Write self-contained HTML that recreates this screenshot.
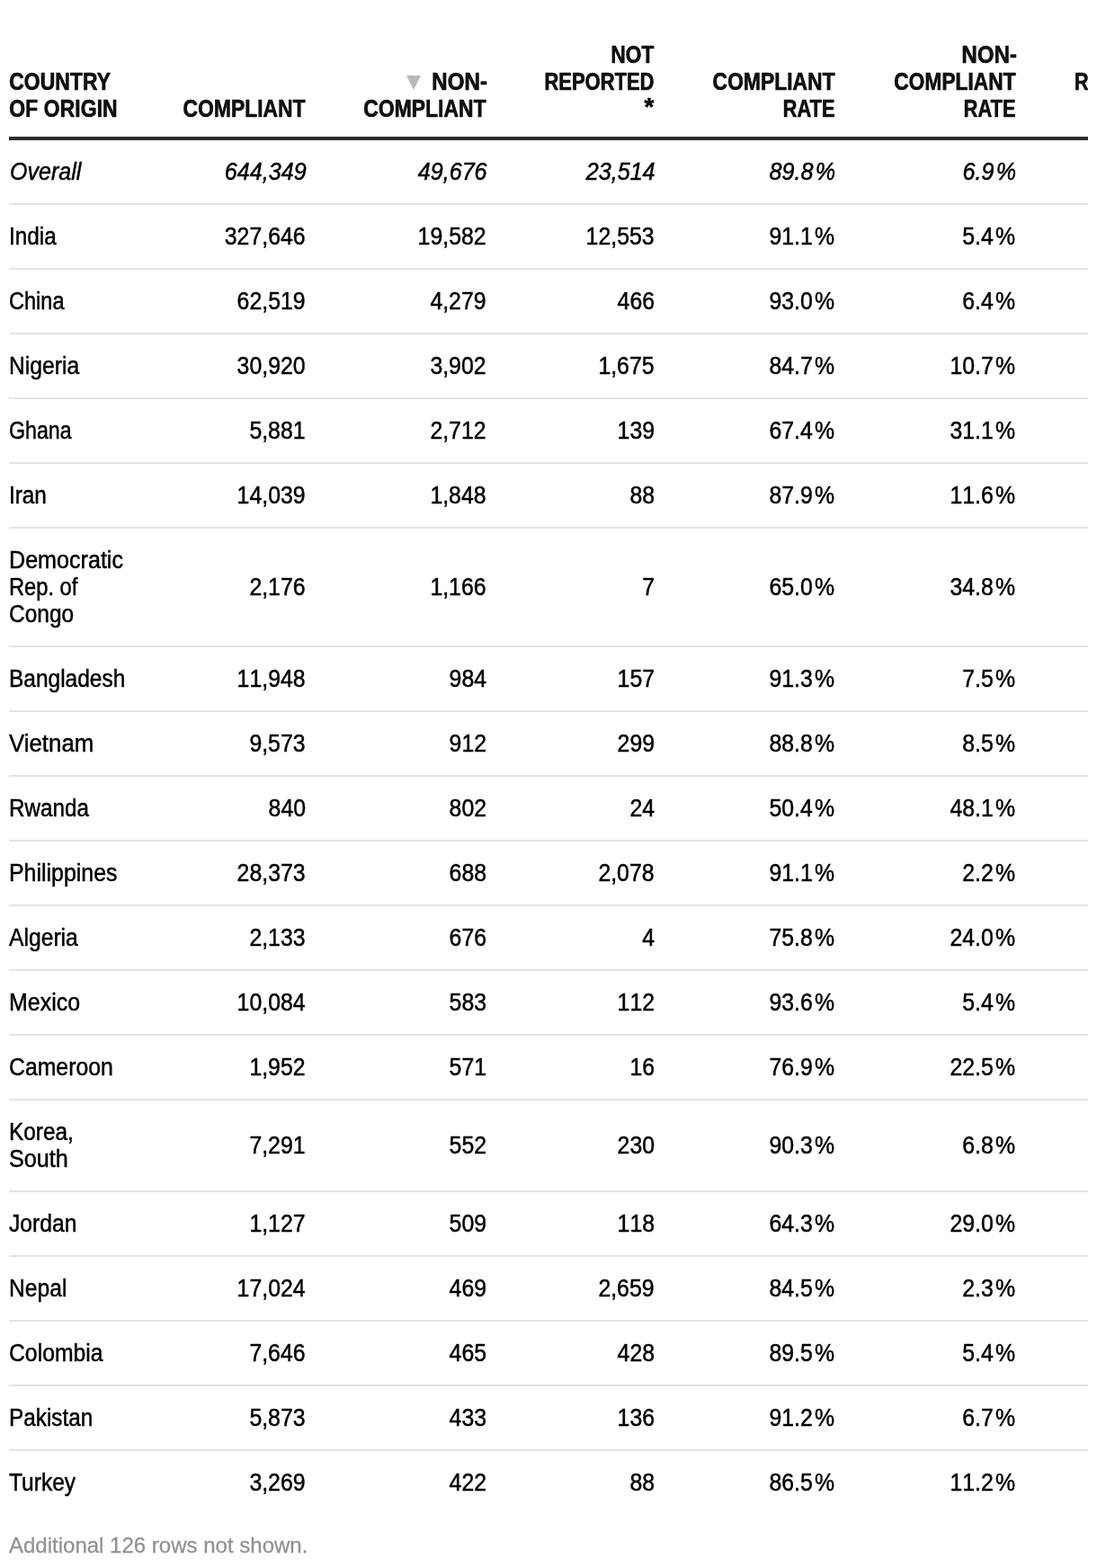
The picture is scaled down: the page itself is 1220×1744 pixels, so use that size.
<!DOCTYPE html>
<html lang="en">
<head>
<meta charset="utf-8">
<title>Compliance by country of origin</title>
<style>
html,body{margin:0;padding:0;background:#fff;}
body{width:1220px;height:1744px;overflow:hidden;position:relative;font-family:"Liberation Sans",sans-serif;color:#000;}
.wrap{position:absolute;left:10px;top:0;width:1200px;overflow:hidden;}
table{border-collapse:collapse;table-layout:fixed;width:1327px;}
th,td{padding:20px 20px 20px 0;font-size:27px;line-height:30px;font-weight:400;white-space:nowrap;vertical-align:middle;}
th{font-size:28.5px;font-weight:700;color:#111;vertical-align:bottom;padding:0 21px 17px 0;height:135px;border-bottom:4px solid #2c2d30;box-sizing:content-box;}
td{border-bottom:2px solid #e3e4e6;}
tr.last td{border-bottom:none;}
.l{text-align:left;}
.r{text-align:right;}
td.r{font-kerning:none;}
.s{display:inline-block;vertical-align:top;transform-origin:right center;-webkit-text-stroke:0.5px #000;}
.l .s{transform-origin:left center;}
th .s{-webkit-text-stroke:0.3px #111;text-shadow:0.5px 0 0 #111;}
tr.overall td{font-style:italic;}
tr.overall td .s{position:relative;left:1px;}
i.p{font-style:inherit;margin-left:2.5px;margin-right:1px;}
.ast{position:relative;top:-2px;}
.non{position:relative;left:1.5px;}
.tri{position:absolute;left:442px;top:84px;}
.foot{position:absolute;left:10px;top:1704px;font-size:24.5px;line-height:30px;color:#929292;white-space:nowrap;}
.foot .s{transform-origin:left center;-webkit-text-stroke:0.3px #929292;}

</style>
</head>
<body>
<div class="wrap">
<table>
<colgroup><col style="width:149px"><col style="width:201px"><col style="width:201px"><col style="width:187px"><col style="width:201px"><col style="width:201px"><col style="width:187px"></colgroup>
<thead>
<tr>
<th class="l"><span class="s" style="transform:scaleX(0.8066)">COUNTRY</span><br><span class="s" style="transform:scaleX(0.8098)">OF ORIGIN</span></th>
<th class="r"><span class="s" style="transform:scaleX(0.8030)">COMPLIANT</span></th>
<th class="r"><span class="s non" style="transform:scaleX(0.8493)">NON-</span><br><span class="s" style="transform:scaleX(0.8045)">COMPLIANT</span></th>
<th class="r"><span class="s" style="transform:scaleX(0.7979)">NOT</span><br><span class="s" style="transform:scaleX(0.7711)">REPORTED</span><br><span class="s ast" style="transform:scaleX(0.9814)">*</span></th>
<th class="r"><span class="s" style="transform:scaleX(0.8030)">COMPLIANT</span><br><span class="s" style="transform:scaleX(0.7690)">RATE</span></th>
<th class="r"><span class="s non" style="transform:scaleX(0.8450)">NON-</span><br><span class="s" style="transform:scaleX(0.7994)">COMPLIANT</span><br><span class="s" style="transform:scaleX(0.7690)">RATE</span></th>
<th class="r"><span class="s" style="transform:scaleX(0.8030)">NOT</span><br><span class="s" style="transform:scaleX(0.7686)">REPORTED</span><br><span class="s" style="transform:scaleX(0.8030)">RATE</span></th>
</tr>
</thead>
<tbody>
<tr class="overall">
<td class="l"><span class="s" style="transform:scaleX(0.9281)">Overall</span></td>
<td class="r"><span class="s" style="transform:scaleX(0.9300)">644,349</span></td>
<td class="r"><span class="s" style="transform:scaleX(0.9300)">49,676</span></td>
<td class="r"><span class="s" style="transform:scaleX(0.9300)">23,514</span></td>
<td class="r"><span class="s" style="transform:scaleX(0.9300)">89.8<i class="p">%</i></span></td>
<td class="r"><span class="s" style="transform:scaleX(0.9300)">6.9<i class="p">%</i></span></td>
<td class="r"><span class="s" style="transform:scaleX(0.9300)">3.3<i class="p">%</i></span></td>
</tr>
<tr>
<td class="l"><span class="s" style="transform:scaleX(0.8996)">India</span></td>
<td class="r"><span class="s" style="transform:scaleX(0.9200)">327,646</span></td>
<td class="r"><span class="s" style="transform:scaleX(0.9200)">19,582</span></td>
<td class="r"><span class="s" style="transform:scaleX(0.9200)">12,553</span></td>
<td class="r"><span class="s" style="transform:scaleX(0.9200)">91.1<i class="p">%</i></span></td>
<td class="r"><span class="s" style="transform:scaleX(0.9200)">5.4<i class="p">%</i></span></td>
<td class="r"><span class="s" style="transform:scaleX(0.9200)">3.5<i class="p">%</i></span></td>
</tr>
<tr>
<td class="l"><span class="s" style="transform:scaleX(0.8719)">China</span></td>
<td class="r"><span class="s" style="transform:scaleX(0.9200)">62,519</span></td>
<td class="r"><span class="s" style="transform:scaleX(0.9200)">4,279</span></td>
<td class="r"><span class="s" style="transform:scaleX(0.9200)">466</span></td>
<td class="r"><span class="s" style="transform:scaleX(0.9200)">93.0<i class="p">%</i></span></td>
<td class="r"><span class="s" style="transform:scaleX(0.9200)">6.4<i class="p">%</i></span></td>
<td class="r"><span class="s" style="transform:scaleX(0.9200)">0.7<i class="p">%</i></span></td>
</tr>
<tr>
<td class="l"><span class="s" style="transform:scaleX(0.9130)">Nigeria</span></td>
<td class="r"><span class="s" style="transform:scaleX(0.9200)">30,920</span></td>
<td class="r"><span class="s" style="transform:scaleX(0.9200)">3,902</span></td>
<td class="r"><span class="s" style="transform:scaleX(0.9200)">1,675</span></td>
<td class="r"><span class="s" style="transform:scaleX(0.9200)">84.7<i class="p">%</i></span></td>
<td class="r"><span class="s" style="transform:scaleX(0.9200)">10.7<i class="p">%</i></span></td>
<td class="r"><span class="s" style="transform:scaleX(0.9200)">4.6<i class="p">%</i></span></td>
</tr>
<tr>
<td class="l"><span class="s" style="transform:scaleX(0.8587)">Ghana</span></td>
<td class="r"><span class="s" style="transform:scaleX(0.9200)">5,881</span></td>
<td class="r"><span class="s" style="transform:scaleX(0.9200)">2,712</span></td>
<td class="r"><span class="s" style="transform:scaleX(0.9200)">139</span></td>
<td class="r"><span class="s" style="transform:scaleX(0.9200)">67.4<i class="p">%</i></span></td>
<td class="r"><span class="s" style="transform:scaleX(0.9200)">31.1<i class="p">%</i></span></td>
<td class="r"><span class="s" style="transform:scaleX(0.9200)">1.6<i class="p">%</i></span></td>
</tr>
<tr>
<td class="l"><span class="s" style="transform:scaleX(0.9003)">Iran</span></td>
<td class="r"><span class="s" style="transform:scaleX(0.9200)">14,039</span></td>
<td class="r"><span class="s" style="transform:scaleX(0.9200)">1,848</span></td>
<td class="r"><span class="s" style="transform:scaleX(0.9200)">88</span></td>
<td class="r"><span class="s" style="transform:scaleX(0.9200)">87.9<i class="p">%</i></span></td>
<td class="r"><span class="s" style="transform:scaleX(0.9200)">11.6<i class="p">%</i></span></td>
<td class="r"><span class="s" style="transform:scaleX(0.9200)">0.6<i class="p">%</i></span></td>
</tr>
<tr>
<td class="l"><span class="s" style="transform:scaleX(0.9303)">Democratic</span><br><span class="s" style="transform:scaleX(0.8768)">Rep. of</span><br><span class="s" style="transform:scaleX(0.9061)">Congo</span></td>
<td class="r"><span class="s" style="transform:scaleX(0.9200)">2,176</span></td>
<td class="r"><span class="s" style="transform:scaleX(0.9200)">1,166</span></td>
<td class="r"><span class="s" style="transform:scaleX(0.9200)">7</span></td>
<td class="r"><span class="s" style="transform:scaleX(0.9200)">65.0<i class="p">%</i></span></td>
<td class="r"><span class="s" style="transform:scaleX(0.9200)">34.8<i class="p">%</i></span></td>
<td class="r"><span class="s" style="transform:scaleX(0.9200)">0.2<i class="p">%</i></span></td>
</tr>
<tr>
<td class="l"><span class="s" style="transform:scaleX(0.9066)">Bangladesh</span></td>
<td class="r"><span class="s" style="transform:scaleX(0.9200)">11,948</span></td>
<td class="r"><span class="s" style="transform:scaleX(0.9200)">984</span></td>
<td class="r"><span class="s" style="transform:scaleX(0.9200)">157</span></td>
<td class="r"><span class="s" style="transform:scaleX(0.9200)">91.3<i class="p">%</i></span></td>
<td class="r"><span class="s" style="transform:scaleX(0.9200)">7.5<i class="p">%</i></span></td>
<td class="r"><span class="s" style="transform:scaleX(0.9200)">1.2<i class="p">%</i></span></td>
</tr>
<tr>
<td class="l"><span class="s" style="transform:scaleX(0.9562)">Vietnam</span></td>
<td class="r"><span class="s" style="transform:scaleX(0.9200)">9,573</span></td>
<td class="r"><span class="s" style="transform:scaleX(0.9200)">912</span></td>
<td class="r"><span class="s" style="transform:scaleX(0.9200)">299</span></td>
<td class="r"><span class="s" style="transform:scaleX(0.9200)">88.8<i class="p">%</i></span></td>
<td class="r"><span class="s" style="transform:scaleX(0.9200)">8.5<i class="p">%</i></span></td>
<td class="r"><span class="s" style="transform:scaleX(0.9200)">2.8<i class="p">%</i></span></td>
</tr>
<tr>
<td class="l"><span class="s" style="transform:scaleX(0.8978)">Rwanda</span></td>
<td class="r"><span class="s" style="transform:scaleX(0.9200)">840</span></td>
<td class="r"><span class="s" style="transform:scaleX(0.9200)">802</span></td>
<td class="r"><span class="s" style="transform:scaleX(0.9200)">24</span></td>
<td class="r"><span class="s" style="transform:scaleX(0.9200)">50.4<i class="p">%</i></span></td>
<td class="r"><span class="s" style="transform:scaleX(0.9200)">48.1<i class="p">%</i></span></td>
<td class="r"><span class="s" style="transform:scaleX(0.9200)">1.4<i class="p">%</i></span></td>
</tr>
<tr>
<td class="l"><span class="s" style="transform:scaleX(0.9223)">Philippines</span></td>
<td class="r"><span class="s" style="transform:scaleX(0.9200)">28,373</span></td>
<td class="r"><span class="s" style="transform:scaleX(0.9200)">688</span></td>
<td class="r"><span class="s" style="transform:scaleX(0.9200)">2,078</span></td>
<td class="r"><span class="s" style="transform:scaleX(0.9200)">91.1<i class="p">%</i></span></td>
<td class="r"><span class="s" style="transform:scaleX(0.9200)">2.2<i class="p">%</i></span></td>
<td class="r"><span class="s" style="transform:scaleX(0.9200)">6.7<i class="p">%</i></span></td>
</tr>
<tr>
<td class="l"><span class="s" style="transform:scaleX(0.9141)">Algeria</span></td>
<td class="r"><span class="s" style="transform:scaleX(0.9200)">2,133</span></td>
<td class="r"><span class="s" style="transform:scaleX(0.9200)">676</span></td>
<td class="r"><span class="s" style="transform:scaleX(0.9200)">4</span></td>
<td class="r"><span class="s" style="transform:scaleX(0.9200)">75.8<i class="p">%</i></span></td>
<td class="r"><span class="s" style="transform:scaleX(0.9200)">24.0<i class="p">%</i></span></td>
<td class="r"><span class="s" style="transform:scaleX(0.9200)">0.1<i class="p">%</i></span></td>
</tr>
<tr>
<td class="l"><span class="s" style="transform:scaleX(0.9247)">Mexico</span></td>
<td class="r"><span class="s" style="transform:scaleX(0.9200)">10,084</span></td>
<td class="r"><span class="s" style="transform:scaleX(0.9200)">583</span></td>
<td class="r"><span class="s" style="transform:scaleX(0.9200)">112</span></td>
<td class="r"><span class="s" style="transform:scaleX(0.9200)">93.6<i class="p">%</i></span></td>
<td class="r"><span class="s" style="transform:scaleX(0.9200)">5.4<i class="p">%</i></span></td>
<td class="r"><span class="s" style="transform:scaleX(0.9200)">1.0<i class="p">%</i></span></td>
</tr>
<tr>
<td class="l"><span class="s" style="transform:scaleX(0.9184)">Cameroon</span></td>
<td class="r"><span class="s" style="transform:scaleX(0.9200)">1,952</span></td>
<td class="r"><span class="s" style="transform:scaleX(0.9200)">571</span></td>
<td class="r"><span class="s" style="transform:scaleX(0.9200)">16</span></td>
<td class="r"><span class="s" style="transform:scaleX(0.9200)">76.9<i class="p">%</i></span></td>
<td class="r"><span class="s" style="transform:scaleX(0.9200)">22.5<i class="p">%</i></span></td>
<td class="r"><span class="s" style="transform:scaleX(0.9200)">0.6<i class="p">%</i></span></td>
</tr>
<tr>
<td class="l"><span class="s" style="transform:scaleX(0.9019)">Korea,</span><br><span class="s" style="transform:scaleX(0.9315)">South</span></td>
<td class="r"><span class="s" style="transform:scaleX(0.9200)">7,291</span></td>
<td class="r"><span class="s" style="transform:scaleX(0.9200)">552</span></td>
<td class="r"><span class="s" style="transform:scaleX(0.9200)">230</span></td>
<td class="r"><span class="s" style="transform:scaleX(0.9200)">90.3<i class="p">%</i></span></td>
<td class="r"><span class="s" style="transform:scaleX(0.9200)">6.8<i class="p">%</i></span></td>
<td class="r"><span class="s" style="transform:scaleX(0.9200)">2.8<i class="p">%</i></span></td>
</tr>
<tr>
<td class="l"><span class="s" style="transform:scaleX(0.9126)">Jordan</span></td>
<td class="r"><span class="s" style="transform:scaleX(0.9200)">1,127</span></td>
<td class="r"><span class="s" style="transform:scaleX(0.9200)">509</span></td>
<td class="r"><span class="s" style="transform:scaleX(0.9200)">118</span></td>
<td class="r"><span class="s" style="transform:scaleX(0.9200)">64.3<i class="p">%</i></span></td>
<td class="r"><span class="s" style="transform:scaleX(0.9200)">29.0<i class="p">%</i></span></td>
<td class="r"><span class="s" style="transform:scaleX(0.9200)">6.7<i class="p">%</i></span></td>
</tr>
<tr>
<td class="l"><span class="s" style="transform:scaleX(0.9128)">Nepal</span></td>
<td class="r"><span class="s" style="transform:scaleX(0.9200)">17,024</span></td>
<td class="r"><span class="s" style="transform:scaleX(0.9200)">469</span></td>
<td class="r"><span class="s" style="transform:scaleX(0.9200)">2,659</span></td>
<td class="r"><span class="s" style="transform:scaleX(0.9200)">84.5<i class="p">%</i></span></td>
<td class="r"><span class="s" style="transform:scaleX(0.9200)">2.3<i class="p">%</i></span></td>
<td class="r"><span class="s" style="transform:scaleX(0.9200)">13.2<i class="p">%</i></span></td>
</tr>
<tr>
<td class="l"><span class="s" style="transform:scaleX(0.9165)">Colombia</span></td>
<td class="r"><span class="s" style="transform:scaleX(0.9200)">7,646</span></td>
<td class="r"><span class="s" style="transform:scaleX(0.9200)">465</span></td>
<td class="r"><span class="s" style="transform:scaleX(0.9200)">428</span></td>
<td class="r"><span class="s" style="transform:scaleX(0.9200)">89.5<i class="p">%</i></span></td>
<td class="r"><span class="s" style="transform:scaleX(0.9200)">5.4<i class="p">%</i></span></td>
<td class="r"><span class="s" style="transform:scaleX(0.9200)">5.0<i class="p">%</i></span></td>
</tr>
<tr>
<td class="l"><span class="s" style="transform:scaleX(0.9004)">Pakistan</span></td>
<td class="r"><span class="s" style="transform:scaleX(0.9200)">5,873</span></td>
<td class="r"><span class="s" style="transform:scaleX(0.9200)">433</span></td>
<td class="r"><span class="s" style="transform:scaleX(0.9200)">136</span></td>
<td class="r"><span class="s" style="transform:scaleX(0.9200)">91.2<i class="p">%</i></span></td>
<td class="r"><span class="s" style="transform:scaleX(0.9200)">6.7<i class="p">%</i></span></td>
<td class="r"><span class="s" style="transform:scaleX(0.9200)">2.1<i class="p">%</i></span></td>
</tr>
<tr class="last">
<td class="l"><span class="s" style="transform:scaleX(0.9090)">Turkey</span></td>
<td class="r"><span class="s" style="transform:scaleX(0.9200)">3,269</span></td>
<td class="r"><span class="s" style="transform:scaleX(0.9200)">422</span></td>
<td class="r"><span class="s" style="transform:scaleX(0.9200)">88</span></td>
<td class="r"><span class="s" style="transform:scaleX(0.9200)">86.5<i class="p">%</i></span></td>
<td class="r"><span class="s" style="transform:scaleX(0.9200)">11.2<i class="p">%</i></span></td>
<td class="r"><span class="s" style="transform:scaleX(0.9200)">2.3<i class="p">%</i></span></td>
</tr>
</tbody>
</table>
<svg class="tri" width="16" height="16" viewBox="0 0 16 16"><polygon points="0,0 16,0 8,16" fill="#b9b9b9"/></svg>
</div>
<div class="foot"><span class="s" style="transform:scaleX(0.9800)">Additional 126 rows not shown.</span></div>
</body>
</html>
